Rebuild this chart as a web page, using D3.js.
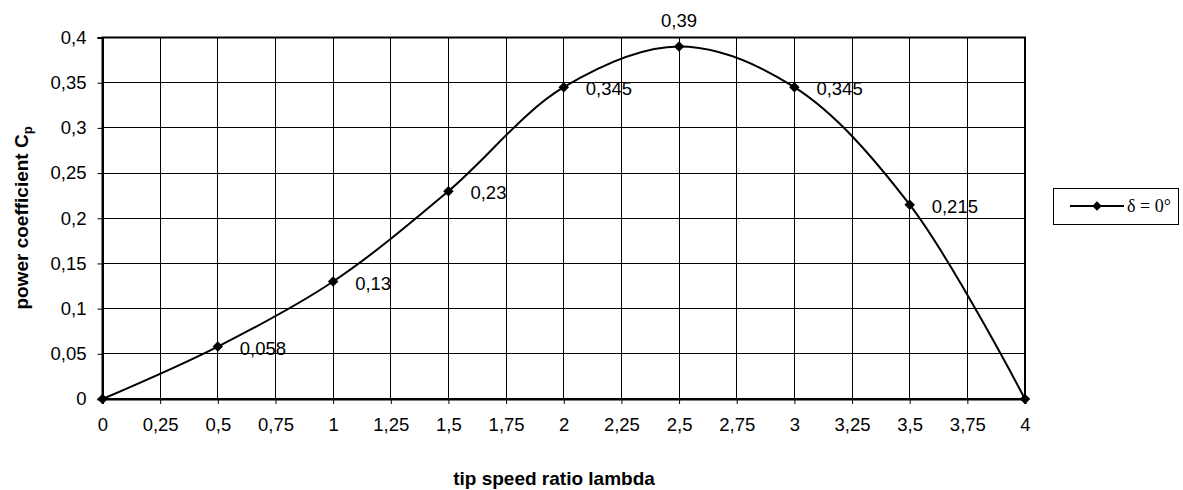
<!DOCTYPE html>
<html><head><meta charset="utf-8">
<script src="https://cdn.jsdelivr.net/npm/d3@7"></script>
<style>body{margin:0;background:#fff;} text{font-family:"Liberation Sans",Arial,sans-serif;}</style>
</head><body><svg id="c" width="1183" height="490"></svg>
<script>
const lambda = [0, 0.5, 1, 1.5, 2, 2.5, 3, 3.5, 4];
const cp = [0, 0.058, 0.13, 0.23, 0.345, 0.39, 0.345, 0.215, 0];
const labels = ["", "0,058", "0,13", "0,23", "0,345", "0,39", "0,345", "0,215", ""];
const xTicks = [0,0.25,0.5,0.75,1,1.25,1.5,1.75,2,2.25,2.5,2.75,3,3.25,3.5,3.75,4];
const yTicks = [0,0.05,0.1,0.15,0.2,0.25,0.3,0.35,0.4];
const seriesName = "δ = 0°";

const FS = 18.5;
const svg = d3.select("#c");
const L=102.5, R=1025, T=37.5, B=399;
const x = d3.scaleLinear().domain([0,4]).range([L,R]);
const y = d3.scaleLinear().domain([0,0.4]).range([B,T]);
const fmt = v => String(v).replace(".", ",");

// grid
svg.append("g").selectAll("line").data(xTicks).join("line")
  .attr("x1",d=>x(d)).attr("x2",d=>x(d)).attr("y1",T).attr("y2",B)
  .attr("stroke","#000").attr("stroke-width",1).attr("shape-rendering","crispEdges");
svg.append("g").selectAll("line").data(yTicks).join("line")
  .attr("x1",L).attr("x2",R).attr("y1",d=>y(d)).attr("y2",d=>y(d))
  .attr("stroke","#000").attr("stroke-width",1).attr("shape-rendering","crispEdges");
svg.append("rect").attr("x",L).attr("y",T).attr("width",R-L).attr("height",B-T)
  .attr("fill","none").attr("stroke","#000").attr("stroke-width",2);

// axes
const xa = svg.append("g").attr("transform",`translate(0,${B})`)
  .call(d3.axisBottom(x).tickValues(xTicks).tickFormat(fmt).tickSize(5).tickPadding(14));
const ya = svg.append("g").attr("transform",`translate(${L},0)`)
  .call(d3.axisLeft(y).tickValues(yTicks).tickFormat(fmt).tickSize(5).tickPadding(11));
[xa,ya].forEach(a=>{
  a.select(".domain").attr("stroke","#000").attr("stroke-width",2);
  a.selectAll("text").attr("font-size",FS).attr("fill","#000").style("font-family","Liberation Sans, Arial, sans-serif");
  a.selectAll(".tick line").attr("stroke","#000");
});

// curve
const pts = lambda.map((v,i)=>[v,cp[i]]);
svg.append("path").datum(pts)
  .attr("d", d3.line().x(d=>x(d[0])).y(d=>y(d[1])).curve(d3.curveCatmullRom.alpha(0.5)))
  .attr("fill","none").attr("stroke","#000").attr("stroke-width",2);

svg.append("g").selectAll("path").data(pts).join("path")
  .attr("d", d3.symbol().type(d3.symbolSquare).size(55))
  .attr("transform",d=>`translate(${x(d[0])},${y(d[1])}) rotate(45)`).attr("fill","#000");

// data labels
svg.append("g").selectAll("text").data(pts).join("text")
  .attr("x",(d,i)=> i===5 ? x(d[0]) : x(d[0])+22)
  .attr("y",(d,i)=> i===5 ? y(d[1])-20 : y(d[1])+8)
  .attr("text-anchor",(d,i)=> i===5 ? "middle":"start")
  .attr("font-size",FS).attr("fill","#000")
  .text((d,i)=>labels[i]);

// axis titles
svg.append("text").attr("x",554).attr("y",485).attr("text-anchor","middle")
  .attr("font-size",19).attr("font-weight","bold").text("tip speed ratio lambda");
const yt = svg.append("text").attr("transform","translate(28,218) rotate(-90)")
  .attr("text-anchor","middle").attr("font-size",19).attr("font-weight","bold");
yt.append("tspan").text("power coefficient C");
yt.append("tspan").attr("font-size",13).attr("dy",4).text("p");

// legend
const lg = svg.append("g");
lg.append("rect").attr("x",1053.5).attr("y",188.5).attr("width",125).attr("height",36)
  .attr("fill","#fff").attr("stroke","#000").attr("stroke-width",1);
lg.append("line").attr("x1",1070).attr("x2",1124).attr("y1",206).attr("y2",206).attr("stroke","#000").attr("stroke-width",2);
lg.append("path").attr("d", d3.symbol().type(d3.symbolSquare).size(45)).attr("transform","translate(1097,206) rotate(45)").attr("fill","#000");
lg.append("text").attr("x",1127).attr("y",212).attr("font-size",18).style("font-family","Liberation Serif, Times New Roman, serif").text(seriesName);
</script></body></html>
